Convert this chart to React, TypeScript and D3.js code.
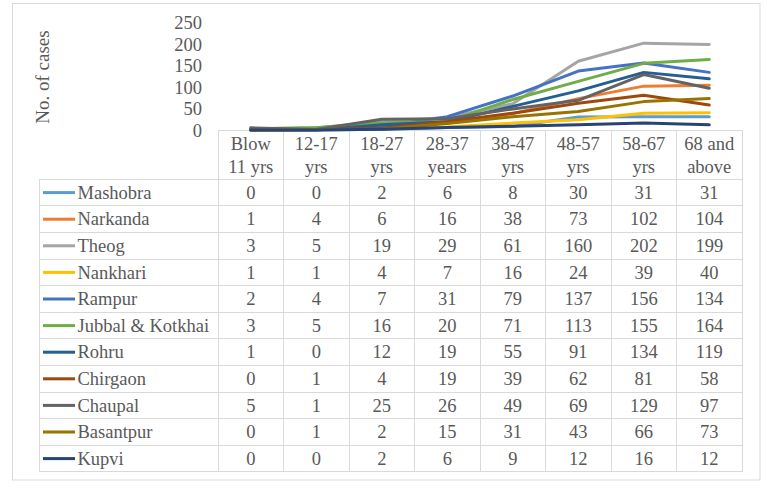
import React, { useRef, useEffect } from 'react';
import * as d3 from 'd3';

// age groups (header lines of the data table)
const ageGroups = ['Blow 11 yrs', '12-17 yrs', '18-27 yrs', '28-37 years', '38-47 yrs', '48-57 yrs', '58-67 yrs', '68 and above'];
const headerTop = ['Blow', '12-17', '18-27', '28-37', '38-47', '48-57', '58-67', '68 and'];
const headerBottom = ['11 yrs', 'yrs', 'yrs', 'years', 'yrs', 'yrs', 'yrs', 'above'];

const blocks = ['Mashobra', 'Narkanda', 'Theog', 'Nankhari', 'Rampur', 'Jubbal & Kotkhai', 'Rohru', 'Chirgaon', 'Chaupal', 'Basantpur', 'Kupvi'];

const mashobra = [0, 0, 2, 6, 8, 30, 31, 31];
const narkanda = [1, 4, 6, 16, 38, 73, 102, 104];
const theog = [3, 5, 19, 29, 61, 160, 202, 199];
const nankhari = [1, 1, 4, 7, 16, 24, 39, 40];
const rampur = [2, 4, 7, 31, 79, 137, 156, 134];
const jubbal = [3, 5, 16, 20, 71, 113, 155, 164];
const rohru = [1, 0, 12, 19, 55, 91, 134, 119];
const chirgaon = [0, 1, 4, 19, 39, 62, 81, 58];
const chaupal = [5, 1, 25, 26, 49, 69, 129, 97];
const basantpur = [0, 1, 2, 15, 31, 43, 66, 73];
const kupvi = [0, 0, 2, 6, 9, 12, 16, 12];

const yTicks = [0, 50, 100, 150, 200, 250];

const seriesValues = [mashobra, narkanda, theog, nankhari, rampur, jubbal, rohru, chirgaon, chaupal, basantpur, kupvi];
const colors = ['#5B9BD5', '#ED7D31', '#A5A5A5', '#FFC000', '#4472C4', '#70AD47', '#255E91', '#9E480E', '#636363', '#997300', '#264478'];

const W = 767;
const H = 488;
const FONT = 'Liberation Serif, DejaVu Serif, serif';
const TEXT = '#595959';
const GRID = '#D9D9D9';

export default function App() {
  const svgRef = useRef<SVGSVGElement>(null);

  useEffect(() => {
    if (!svgRef.current) return;
    const svg = d3.select(svgRef.current);
    svg.selectAll('*').remove();

    const tableLeft = 218, tableRight = 742;
    const legendLeft = 39;
    const headTop = 130, headBottom = 179.3;
    const rowH = 26.6;

    const x = d3.scaleBand<string>().domain(ageGroups).range([tableLeft, tableRight]).padding(0);
    const cx = (i: number) => (x(ageGroups[i]) as number) + x.bandwidth() / 2;
    const y = d3.scaleLinear().domain([0, 250]).range([headTop, 22.5]);

    // outer chart border
    svg.append('rect')
      .attr('x', 12.5).attr('y', 3.5)
      .attr('width', 747.5).attr('height', 476.5)
      .attr('fill', '#fff').attr('stroke', GRID).attr('stroke-width', 1);

    // y axis
    const yAxis = d3.axisLeft(y).tickValues(yTicks).tickSize(0).tickPadding(0);
    const yg = svg.append('g').attr('transform', 'translate(202,0)').call(yAxis);
    yg.select('.domain').remove();
    yg.attr('font-family', null).attr('font-size', null);
    yg.selectAll('text')
      .attr('fill', TEXT)
      .style('font-family', FONT)
      .style('font-size', '18.5px')
      .attr('dy', '0.33em');

    svg.append('text')
      .attr('transform', `translate(49,77) rotate(-90)`)
      .attr('text-anchor', 'middle')
      .style('font-family', FONT)
      .style('font-size', '19px')
      .attr('fill', TEXT)
      .text('No. of cases');

    // table grid
    const rowsBottom = headBottom + rowH * blocks.length;
    const grid = svg.append('g').attr('stroke', GRID).attr('stroke-width', 1).attr('shape-rendering', 'crispEdges');
    grid.append('line').attr('x1', tableLeft).attr('x2', tableRight).attr('y1', headTop).attr('y2', headTop);
    for (let r = 0; r <= blocks.length; r++) {
      const yy = headBottom + r * rowH;
      grid.append('line').attr('x1', legendLeft).attr('x2', tableRight).attr('y1', yy).attr('y2', yy);
    }
    grid.append('line').attr('x1', legendLeft).attr('x2', legendLeft).attr('y1', headBottom).attr('y2', rowsBottom);
    ageGroups.forEach((g) => {
      const xx = x(g) as number;
      grid.append('line').attr('x1', xx).attr('x2', xx).attr('y1', headTop).attr('y2', rowsBottom);
    });
    grid.append('line').attr('x1', tableRight).attr('x2', tableRight).attr('y1', headTop).attr('y2', rowsBottom);

    // header labels
    const head = svg.append('g')
      .style('font-family', FONT).style('font-size', '18.5px').attr('fill', TEXT).attr('text-anchor', 'middle');
    ageGroups.forEach((_, i) => {
      head.append('text').attr('x', cx(i)).attr('y', 150).text(headerTop[i]);
      head.append('text').attr('x', cx(i)).attr('y', 172.5).text(headerBottom[i]);
    });

    // rows: legend keys, names and values
    const rows = svg.append('g').style('font-family', FONT).style('font-size', '18.5px').attr('fill', TEXT);
    blocks.forEach((name, r) => {
      const mid = headBottom + r * rowH + rowH / 2;
      rows.append('line')
        .attr('x1', 43).attr('x2', 75).attr('y1', mid).attr('y2', mid)
        .attr('stroke', colors[r]).attr('stroke-width', 3);
      rows.append('text').attr('x', 77.5).attr('y', mid).attr('dy', '0.33em').text(name);
      seriesValues[r].forEach((v, i) => {
        rows.append('text')
          .attr('x', cx(i)).attr('y', mid).attr('dy', '0.33em')
          .attr('text-anchor', 'middle').text(v);
      });
    });

    // lines
    const line = d3.line<number>()
      .x((_, i) => cx(i))
      .y((d) => y(d));
    seriesValues.forEach((vals, r) => {
      svg.append('path')
        .datum(vals)
        .attr('fill', 'none')
        .attr('stroke', colors[r])
        .attr('stroke-width', 3)
        .attr('stroke-linejoin', 'round')
        .attr('stroke-linecap', 'round')
        .attr('d', line);
    });
  }, []);

  return (
    <svg ref={svgRef} width={W} height={H}
      style={{ position: 'absolute', left: 0, top: 0, background: '#fff' }} />
  );
}
